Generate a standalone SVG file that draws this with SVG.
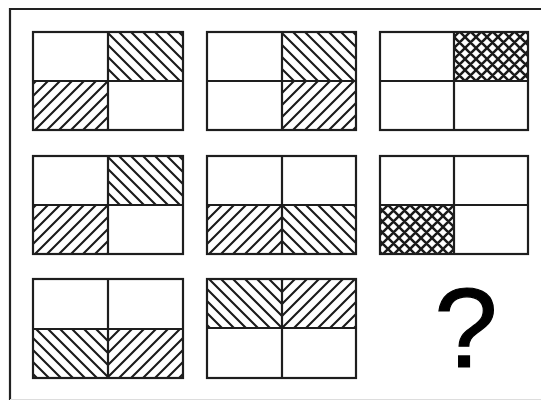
<svg xmlns="http://www.w3.org/2000/svg" width="541" height="401" viewBox="0 0 541 401">
<defs>
<style>
.cell{fill:none;stroke:#1e1e1e;stroke-width:2.2}
.frame{stroke:#222;stroke-width:2.2;fill:none}
</style>
<pattern id="bs" patternUnits="userSpaceOnUse" width="12" height="12">
<path d="M-3,-3 L15,15 M-3,9 L3,15 M9,-3 L15,3" stroke="#1a1a1a" stroke-width="2.1"/>
</pattern>
<pattern id="fs" patternUnits="userSpaceOnUse" width="12" height="12">
<path d="M-3,15 L15,-3 M-3,3 L3,-3 M9,15 L15,9" stroke="#1a1a1a" stroke-width="2.1"/>
</pattern>
<pattern id="x" patternUnits="userSpaceOnUse" width="11" height="11">
<path d="M-3,-3 L14,14 M-3,8 L3,14 M8,-3 L14,3 M-3,14 L14,-3 M-3,3 L3,-3 M8,14 L14,8" stroke="#1a1a1a" stroke-width="2.5"/>
</pattern>
</defs>
<rect width="541" height="401" fill="#fff"/>
<g id="frame">
<line class="frame" x1="9" y1="9" x2="541" y2="9"/>
<line class="frame" x1="10" y1="8" x2="10" y2="400"/>
<line x1="10" y1="399.5" x2="541" y2="399.5" stroke="#ddd" stroke-width="1"/>
</g>
<g id="box1" transform="translate(108,81)">
<rect x="0" y="-49" width="75" height="49" fill="url(#bs)"/>
<rect x="-75" y="0" width="75" height="49" fill="url(#fs)"/>
<rect class="cell" x="-75" y="-49" width="150" height="98"/>
<path class="cell" d="M0,-49V49M-75,0H75"/>
</g>
<g id="box2" transform="translate(282,81)">
<rect x="0" y="-49" width="74" height="49" fill="url(#bs)"/>
<rect x="0" y="0" width="74" height="49" fill="url(#fs)"/>
<rect class="cell" x="-75" y="-49" width="149" height="98"/>
<path class="cell" d="M0,-49V49M-75,0H74"/>
</g>
<g id="box3" transform="translate(454,81)">
<rect x="0" y="-49" width="74" height="49" fill="url(#x)"/>
<rect class="cell" x="-74" y="-49" width="148" height="98"/>
<path class="cell" d="M0,-49V49M-74,0H74"/>
</g>
<g id="box4" transform="translate(108,205)">
<rect x="0" y="-49" width="75" height="49" fill="url(#bs)"/>
<rect x="-75" y="0" width="75" height="49" fill="url(#fs)"/>
<rect class="cell" x="-75" y="-49" width="150" height="98"/>
<path class="cell" d="M0,-49V49M-75,0H75"/>
</g>
<g id="box5" transform="translate(282,205)">
<rect x="-75" y="0" width="75" height="49" fill="url(#fs)"/>
<rect x="0" y="0" width="74" height="49" fill="url(#bs)"/>
<rect class="cell" x="-75" y="-49" width="149" height="98"/>
<path class="cell" d="M0,-49V49M-75,0H74"/>
</g>
<g id="box6" transform="translate(454,205)">
<rect x="-74" y="0" width="74" height="49" fill="url(#x)"/>
<rect class="cell" x="-74" y="-49" width="148" height="98"/>
<path class="cell" d="M0,-49V49M-74,0H74"/>
</g>
<g id="box7" transform="translate(108,329)">
<rect x="-75" y="0" width="75" height="49" fill="url(#bs)"/>
<rect x="0" y="0" width="75" height="49" fill="url(#fs)"/>
<rect class="cell" x="-75" y="-50" width="150" height="99"/>
<path class="cell" d="M0,-50V49M-75,0H75"/>
</g>
<g id="box8" transform="translate(282,328)">
<rect x="-75" y="-49" width="75" height="49" fill="url(#bs)"/>
<rect x="0" y="-49" width="74" height="49" fill="url(#fs)"/>
<rect class="cell" x="-75" y="-49" width="149" height="99"/>
<path class="cell" d="M0,-49V50M-75,0H74"/>
</g>
<g id="question">
<text x="466" y="367" font-family="Liberation Sans, Arial, sans-serif" font-size="114" text-anchor="middle" fill="#000" stroke="#000" stroke-width="1.2">?</text>
</g>
</svg>
